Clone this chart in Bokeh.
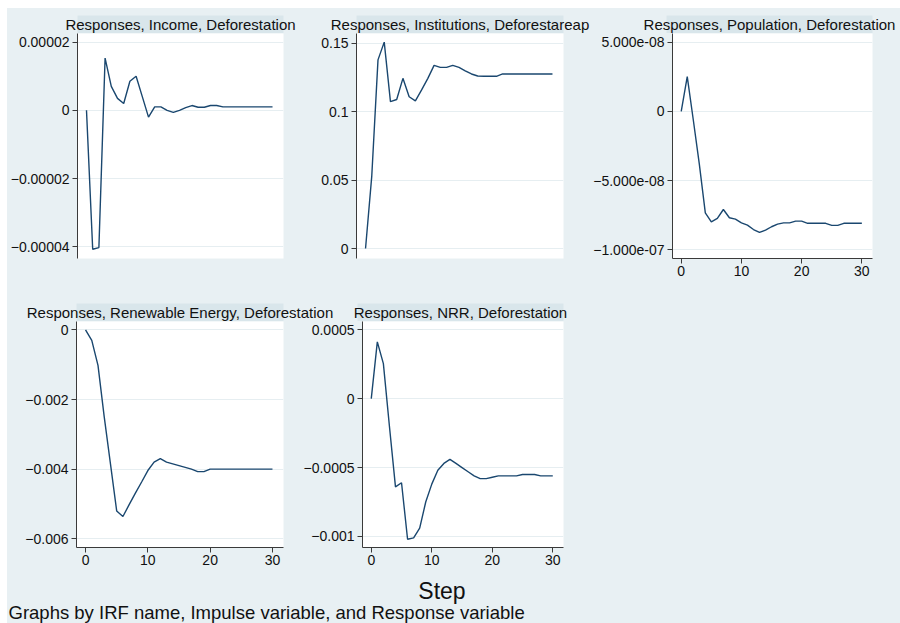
from bokeh.plotting import figure
from bokeh.layouts import row, column, Spacer
from bokeh.models import FixedTicker, BoxAnnotation, Label, Range1d
from bokeh.embed import file_html
from bokeh.resources import INLINE

# ---------------- data ----------------
steps = list(range(31))

income = [0, -4.07e-5, -4.02e-5, 1.53e-5, 0.70e-5, 0.35e-5, 0.20e-5, 0.85e-5, 1.00e-5,
          0.40e-5, -0.20e-5, 0.10e-5, 0.10e-5, 0.00e-5, -0.06e-5, 0.00e-5, 0.08e-5,
          0.14e-5, 0.09e-5, 0.09e-5, 0.14e-5, 0.14e-5, 0.10e-5, 0.10e-5, 0.10e-5,
          0.10e-5, 0.10e-5, 0.10e-5, 0.10e-5, 0.10e-5, 0.10e-5]

institutions = [0, 0.053, 0.138, 0.151, 0.1075, 0.109, 0.1245, 0.111, 0.108, 0.116,
                0.1245, 0.134, 0.1325, 0.1325, 0.134, 0.1325, 0.130, 0.1277, 0.1262,
                0.126, 0.126, 0.126, 0.1277, 0.1277, 0.1277, 0.1277, 0.1277, 0.1277,
                0.1277, 0.1277, 0.1277]

population = [0, 2.53e-8, -0.6e-8, -3.8e-8, -7.35e-8, -8.0e-8, -7.75e-8, -7.1e-8,
              -7.7e-8, -7.8e-8, -8.07e-8, -8.23e-8, -8.55e-8, -8.76e-8, -8.6e-8,
              -8.35e-8, -8.16e-8, -8.07e-8, -8.07e-8, -7.94e-8, -7.94e-8, -8.1e-8,
              -8.1e-8, -8.1e-8, -8.1e-8, -8.25e-8, -8.25e-8, -8.1e-8, -8.1e-8,
              -8.1e-8, -8.1e-8]

renewable = [0, -0.0003, -0.00102, -0.0025, -0.00385, -0.0052, -0.00536, -0.00502,
             -0.00469, -0.00437, -0.00404, -0.0038, -0.0037, -0.0038, -0.00385,
             -0.0039, -0.00395, -0.0040, -0.00407, -0.00407, -0.0040, -0.0040,
             -0.0040, -0.0040, -0.0040, -0.0040, -0.0040, -0.0040, -0.0040,
             -0.0040, -0.0040]

nrr = [0, 0.000412, 0.000254, -0.0002, -0.00064, -0.00061, -0.00102, -0.00101,
       -0.00094, -0.00075, -0.00062, -0.00052, -0.00047, -0.00044, -0.00047,
       -0.0005, -0.00053, -0.00056, -0.00058, -0.00058, -0.00057, -0.00056,
       -0.00056, -0.00056, -0.00056, -0.00055, -0.00055, -0.00055, -0.00056,
       -0.00056, -0.00056]

titles = ["Responses, Income, Deforestation",
          "Responses, Institutions, Deforestareap",
          "Responses, Population, Deforestation",
          "Responses, Renewable Energy, Deforestation",
          "Responses, NRR, Deforestation"]

x_ticks = [0, 10, 20, 30]

income_ticks = [2e-5, 0, -2e-5, -4e-5]
income_labels = ["0.00002", "0", "\u22120.00002", "\u22120.00004"]
inst_ticks = [0.15, 0.1, 0.05, 0]
inst_labels = ["0.15", "0.1", "0.05", "0"]
pop_ticks = [5e-8, 0, -5e-8, -1e-7]
pop_labels = ["5.000e-08", "0", "\u22125.000e-08", "\u22121.000e-07"]
ren_ticks = [0, -0.002, -0.004, -0.006]
ren_labels = ["0", "\u22120.002", "\u22120.004", "\u22120.006"]
nrr_ticks = [0.0005, 0, -0.0005, -0.001]
nrr_labels = ["0.0005", "0", "\u22120.0005", "\u22120.001"]

step_label = "Step"
note = "Graphs by IRF name, Impulse variable, and Response variable"

# ---------------- style / layout ----------------
BG = "#E8F0F3"
STRIP = "#D9E6EB"
GRID = "#E6EEF1"
LINE = "#1A476F"
AXIS = "#3A3A3A"
TXT = "#111111"
FONT = "Liberation Sans"
X_LO, X_HI = -1.45, 31.77

TOTAL_W = 893
COL_W = [293, 290, 310]
ROW1 = dict(h=257, bt=0, bb=32)
ROW2 = dict(h=254, bt=0, bb=28)
# (left border, right border) of each panel
R1_BORDERS = [(70, 17), (56, 27), (76, 28)]
R2_BORDERS = [(69, 17), (57, 27)]
STRIP_H = 18
BOX_STYLE = {"background-color": BG}


def panel(values, yticks, ylabels, y_lo, y_hi, width, rowcfg, borders, show_x):
    bl, br = borders
    p = figure(width=width, height=rowcfg["h"], output_backend="svg",
               toolbar_location=None,
               x_range=Range1d(X_LO, X_HI), y_range=Range1d(y_lo, y_hi),
               min_border_left=bl, min_border_right=br,
               min_border_top=rowcfg["bt"], min_border_bottom=rowcfg["bb"])
    p.background_fill_color = "white"
    p.border_fill_color = BG
    p.outline_line_color = None
    p.xgrid.visible = False
    p.ygrid.grid_line_color = GRID
    p.ygrid.grid_line_width = 1

    p.line(steps, values, line_color=LINE, line_width=1.4)

    ya = p.yaxis[0]
    ya.ticker = FixedTicker(ticks=yticks)
    ya.major_label_overrides = {t: l for t, l in zip(yticks, ylabels)}
    for ax in (p.yaxis[0], p.xaxis[0]):
        ax.axis_line_color = AXIS
        ax.axis_line_width = 1
        ax.major_tick_line_color = AXIS
        ax.major_tick_out = 5
        ax.major_tick_in = 0
        ax.minor_tick_line_color = None
        ax.major_label_standoff = 3
        ax.major_label_text_font = FONT
        ax.major_label_text_font_size = "14px"
        ax.major_label_text_color = TXT
    xa = p.xaxis[0]
    xa.ticker = FixedTicker(ticks=x_ticks)
    xa.major_label_standoff = 2
    if not show_x:
        xa.visible = False
    return p


def blank(width, height, xmax=1.0, ymax=1.0):
    b = figure(width=width, height=height, output_backend="svg", toolbar_location=None,
               x_range=Range1d(0, xmax), y_range=Range1d(0, ymax), min_border=0)
    b.axis.visible = False
    b.grid.visible = False
    b.background_fill_color = BG
    b.border_fill_color = BG
    b.outline_line_color = None
    return b


def strip_row(height, borders, texts):
    """A full-width band holding the by-group title strips of one row of panels."""
    s = blank(TOTAL_W, height, xmax=TOTAL_W, ymax=height)
    x0 = 0
    for (bl, br), w, t in zip(borders, COL_W, texts):
        left = x0 + bl
        right = x0 + w - br
        s.add_layout(BoxAnnotation(left=left, right=right, bottom=0, top=STRIP_H,
                                   fill_color=STRIP, fill_alpha=1.0, line_alpha=0))
        s.add_layout(Label(x=(left + right) / 2, y=STRIP_H / 2, text=t,
                           text_align="center", text_baseline="middle",
                           text_font=FONT, text_font_size="15px", text_color=TXT))
        x0 += w
    return s


p1 = panel(income, income_ticks, income_labels, -4.34e-5, 2.25e-5,
           COL_W[0], ROW1, R1_BORDERS[0], False)
p2 = panel(institutions, inst_ticks, inst_labels, -0.0073, 0.1573,
           COL_W[1], ROW1, R1_BORDERS[1], False)
p3 = panel(population, pop_ticks, pop_labels, -1.065e-7, 5.65e-8,
           COL_W[2], ROW1, R1_BORDERS[2], True)
p4 = panel(renewable, ren_ticks, ren_labels, -0.00625, 0.00024,
           COL_W[0], ROW2, R2_BORDERS[0], True)
p5 = panel(nrr, nrr_ticks, nrr_labels, -0.00108, 0.00056,
           COL_W[1], ROW2, R2_BORDERS[1], True)
p6 = blank(COL_W[2], ROW2["h"])

s1 = strip_row(25, R1_BORDERS, titles[0:3])
s2 = strip_row(31, R2_BORDERS, titles[3:5])

FOOT_H = 48
foot = blank(TOTAL_W, FOOT_H, xmax=TOTAL_W, ymax=FOOT_H)
foot.add_layout(Label(x=434.5, y=FOOT_H - 15, text=step_label, text_align="center",
                      text_baseline="middle", text_font=FONT, text_font_size="23px",
                      text_color=TXT))
foot.add_layout(Label(x=1, y=FOOT_H - 37, text=note, text_align="left",
                      text_baseline="middle", text_font=FONT, text_font_size="18.5px",
                      text_color=TXT))

body = column(s1, row(p1, p2, p3, spacing=0, styles=BOX_STYLE), s2,
              row(p4, p5, p6, spacing=0, styles=BOX_STYLE), foot,
              spacing=0, styles=BOX_STYLE)
layout = column(Spacer(width=900, height=8), row(Spacer(width=7, height=615), body,
                                                  spacing=0), spacing=0)

open("out.html", "w").write(file_html(layout, INLINE))
